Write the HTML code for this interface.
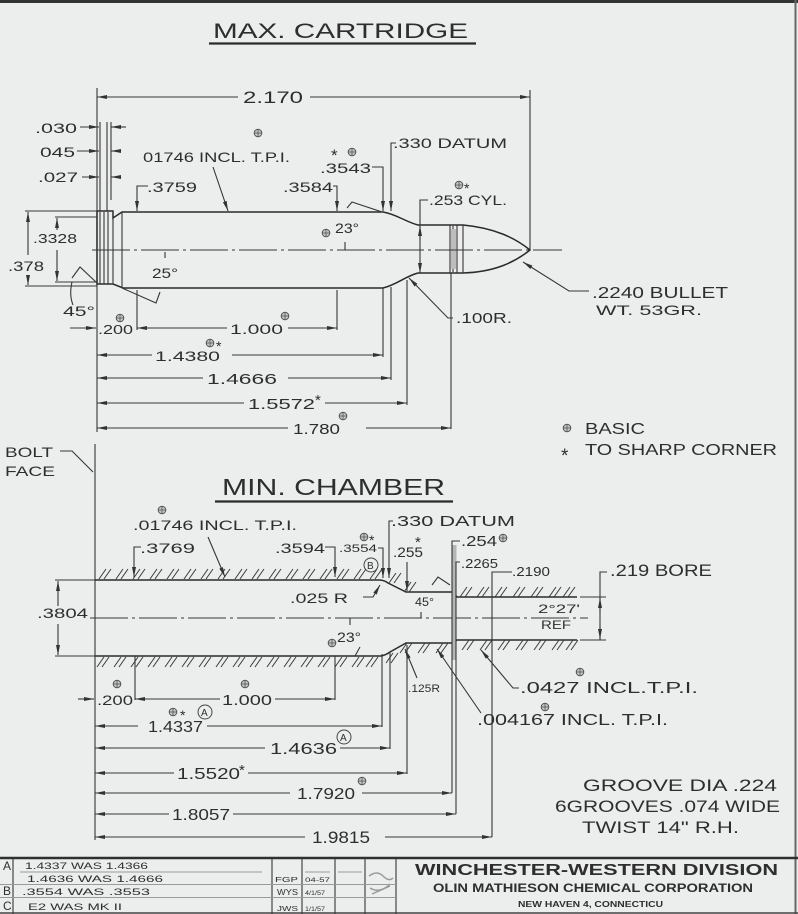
<!DOCTYPE html>
<html><head><meta charset="utf-8"><style>
html,body{margin:0;padding:0;background:#eceeed;}
svg{display:block;}
text{font-family:"Liberation Sans",sans-serif;fill:#2e2e2e;}
.l{stroke:#363636;stroke-width:1.1;fill:none;}
.k{stroke:#2a2a2a;stroke-width:1.5;fill:none;}
.h{stroke:#3a3a3a;stroke-width:1;fill:none;}
.g{stroke:#9a9a9a;stroke-width:1;fill:none;}
</style></head><body>
<svg width="798" height="914" viewBox="0 0 798 914" xmlns="http://www.w3.org/2000/svg">
<defs>
<marker id="a" viewBox="0 0 10 4" refX="10" refY="2" markerWidth="10" markerHeight="4" orient="auto-start-reverse" markerUnits="userSpaceOnUse"><path d="M0,0L10,2L0,4z" fill="#333"/></marker>
<g id="b"><circle r="3.8" fill="#c4c4c4" stroke="#555" stroke-width="1"/><path d="M-3.8,0H3.8M0,-3.8V3.8" stroke="#555" stroke-width="0.8"/></g>
</defs>
<rect width="798" height="914" fill="#eceeed"/>
<path d="M0,1.5H798" stroke="#333" stroke-width="3"/>
<path d="M795.5,0V914" stroke="#666" stroke-width="2"/>

<!-- ===== MAX CARTRIDGE ===== -->
<text x="213" y="38" font-size="21" textLength="255" lengthAdjust="spacingAndGlyphs">MAX. CARTRIDGE</text>
<path d="M209,43.5H476" stroke="#2a2a2a" stroke-width="2.2"/>

<path class="l" d="M97,97H238" marker-start="url(#a)"/>
<text x="243" y="103" font-size="17" textLength="60" lengthAdjust="spacingAndGlyphs">2.170</text>
<path class="l" d="M310,97H530" marker-end="url(#a)"/>
<path class="l" d="M97,88V432M530,90V249"/>

<text x="35" y="133" font-size="14" textLength="42" lengthAdjust="spacingAndGlyphs">.030</text>
<path class="l" d="M80,127H99" marker-end="url(#a)"/><path class="l" d="M126,127H111" marker-end="url(#a)"/>
<text x="40" y="157" font-size="14" textLength="35" lengthAdjust="spacingAndGlyphs">045</text>
<path class="l" d="M77,151H99" marker-end="url(#a)"/><path class="l" d="M119,151H111" marker-end="url(#a)"/>
<text x="38" y="182" font-size="14" textLength="40" lengthAdjust="spacingAndGlyphs">.027</text>
<path class="l" d="M82,177H99" marker-end="url(#a)"/><path class="l" d="M120,177H111" marker-end="url(#a)"/>
<path class="l" d="M100,122V211M107,122V211M111,122V200"/>

<!-- cartridge outline -->
<path class="k" d="M97,211L113,211L113,218L122,212L383,212C396,214 406,222 418,225L463,225C495,228 515,238 530,250C515,262 495,272 463,273L418,273C406,276 396,285 383,288L123,288L113,284L97,284Z"/>
<path class="l" d="M100,212V284M104,212V284M108,212V284M113,218V284M122,212V288M450,225V273M453,226V272M457,225V273M463,225V273"/>
<rect x="451" y="229" width="5" height="40" fill="#bdbdbd"/>
<path class="l" d="M92,250H562" stroke-dasharray="38 4 3 4"/>

<!-- top labels -->
<use href="#b" x="258" y="133"/>
<text x="143" y="162" font-size="14" textLength="147" lengthAdjust="spacingAndGlyphs">01746 INCL. T.P.I.</text>
<path class="l" d="M213,167L228,211" marker-end="url(#a)"/>
<path class="l" d="M148,186H137V211" marker-end="url(#a)"/>
<text x="147" y="192" font-size="14" textLength="50" lengthAdjust="spacingAndGlyphs">.3759</text>
<text x="283" y="192" font-size="14" textLength="50" lengthAdjust="spacingAndGlyphs">.3584</text>
<path class="l" d="M333,186H337V211" marker-end="url(#a)"/>
<text x="331" y="161" font-size="17">*</text><use href="#b" x="352" y="152"/>
<text x="320" y="173" font-size="14" textLength="51" lengthAdjust="spacingAndGlyphs">.3543</text>
<path class="l" d="M372,167H383V211" marker-end="url(#a)"/>
<path class="l" d="M396,143H391V211" marker-end="url(#a)"/>
<text x="393" y="148" font-size="14" textLength="114" lengthAdjust="spacingAndGlyphs">.330 DATUM</text>
<use href="#b" x="459" y="185"/><text x="464" y="193" font-size="14">*</text>
<text x="429" y="205" font-size="14" textLength="78" lengthAdjust="spacingAndGlyphs">.253 CYL.</text>
<path class="l" d="M428,200H420V273" marker-end="url(#a)"/>
<path class="l" d="M420,240V226" marker-end="url(#a)"/>

<text x="592" y="298" font-size="16" textLength="136" lengthAdjust="spacingAndGlyphs">.2240 BULLET</text>
<text x="596" y="315" font-size="14" textLength="106" lengthAdjust="spacingAndGlyphs">WT.  53GR.</text>
<path class="l" d="M589,291H569L523,262" marker-end="url(#a)"/>
<text x="456" y="323" font-size="15" textLength="56" lengthAdjust="spacingAndGlyphs">.100R.</text>
<path class="l" d="M453,318H448L409,278" marker-end="url(#a)"/>

<use href="#b" x="326" y="233"/>
<text x="335" y="233" font-size="14" textLength="24" lengthAdjust="spacingAndGlyphs">23°</text>
<path class="l" d="M345,242V250M347,208L352,202L382,212"/>
<text x="152" y="278" font-size="14" textLength="26" lengthAdjust="spacingAndGlyphs">25°</text>
<path class="l" d="M122,288L156,303L160,292M165,252V258"/>
<text x="63" y="316" font-size="14" textLength="32" lengthAdjust="spacingAndGlyphs">45°</text>
<path class="l" d="M72,278L80,267L97,283M72,282Q69,295 73,305"/>

<!-- .3328 / .378 -->
<text x="33" y="243" font-size="13" textLength="44" lengthAdjust="spacingAndGlyphs">.3328</text>
<path class="l" d="M55,217H97M55,282H97"/>
<path class="l" d="M57,230V218" marker-end="url(#a)"/><path class="l" d="M57,250V281" marker-end="url(#a)"/>
<text x="8" y="271" font-size="14" textLength="36" lengthAdjust="spacingAndGlyphs">.378</text>
<path class="l" d="M25,211H97M25,286H97"/>
<path class="l" d="M28,255V212" marker-end="url(#a)"/><path class="l" d="M28,276V285" marker-end="url(#a)"/>

<!-- lower dims top view -->
<path class="l" d="M137,290V330M337,290V330M383,288V357M391,287V380M407,280V405M451,273V429"/>
<path class="l" d="M70,328H96" marker-end="url(#a)"/>
<use href="#b" x="120" y="318"/>
<text x="98" y="334" font-size="13" textLength="35" lengthAdjust="spacingAndGlyphs">.200</text>
<path class="l" d="M137,328H227" marker-start="url(#a)"/>
<text x="230" y="334" font-size="14" textLength="53" lengthAdjust="spacingAndGlyphs">1.000</text>
<use href="#b" x="285" y="316"/>
<path class="l" d="M288,328H337" marker-end="url(#a)"/>

<path class="l" d="M97,355H152" marker-start="url(#a)"/>
<text x="155" y="361" font-size="14" textLength="65" lengthAdjust="spacingAndGlyphs">1.4380</text>
<use href="#b" x="210" y="343"/><text x="216" y="351" font-size="14">*</text>
<path class="l" d="M232,355H383" marker-end="url(#a)"/>

<path class="l" d="M97,378H203" marker-start="url(#a)"/>
<text x="207" y="384" font-size="15" textLength="70" lengthAdjust="spacingAndGlyphs">1.4666</text>
<path class="l" d="M288,378H391" marker-end="url(#a)"/>

<path class="l" d="M97,403H244" marker-start="url(#a)"/>
<text x="248" y="409" font-size="15" textLength="67" lengthAdjust="spacingAndGlyphs">1.5572</text>
<text x="315" y="405" font-size="15">*</text>
<path class="l" d="M325,403H407" marker-end="url(#a)"/>

<path class="l" d="M97,428H288" marker-start="url(#a)"/>
<text x="293" y="434" font-size="15" textLength="47" lengthAdjust="spacingAndGlyphs">1.780</text>
<use href="#b" x="343" y="416"/>
<path class="l" d="M366,428H451" marker-end="url(#a)"/>

<use href="#b" x="567" y="428"/>
<text x="585" y="434" font-size="16" textLength="60" lengthAdjust="spacingAndGlyphs">BASIC</text>
<text x="561" y="462" font-size="19">*</text>
<text x="585" y="455" font-size="16" textLength="192" lengthAdjust="spacingAndGlyphs">TO SHARP CORNER</text>

<!-- ===== BOLT FACE / MIN CHAMBER ===== -->
<text x="5" y="457" font-size="14" textLength="48" lengthAdjust="spacingAndGlyphs">BOLT</text>
<text x="5" y="476" font-size="14" textLength="50" lengthAdjust="spacingAndGlyphs">FACE</text>
<path class="l" d="M60,451H72L93,472"/>
<path class="l" d="M95,444V840"/>

<text x="222" y="495" font-size="23" textLength="223" lengthAdjust="spacingAndGlyphs">MIN. CHAMBER</text>
<path d="M215,501.5H453" stroke="#2a2a2a" stroke-width="2.2"/>

<!-- chamber profile -->
<path class="k" d="M95,580L379,580Q384,580 388,583L406,592L453,592L457,597L577,597"/>
<path class="k" d="M95,656L381,656Q386,655 390,652L406,643L453,643L457,640L577,640"/>
<path class="l" d="M90,618H588" stroke-dasharray="38 4 3 4"/>
<path class="h" d="M99,579l7,-10m-2,10l7,-10M116,579l7,-10m-2,10l7,-10M133,579l7,-10m-2,10l7,-10M150,579l7,-10m-2,10l7,-10M167,579l7,-10m-2,10l7,-10M184,579l7,-10m-2,10l7,-10M201,579l7,-10m-2,10l7,-10M218,579l7,-10m-2,10l7,-10M235,579l7,-10m-2,10l7,-10M252,579l7,-10m-2,10l7,-10M269,579l7,-10m-2,10l7,-10M286,579l7,-10m-2,10l7,-10M303,579l7,-10m-2,10l7,-10M320,579l7,-10m-2,10l7,-10M337,579l7,-10m-2,10l7,-10M354,579l7,-10m-2,10l7,-10M370,579l7,-10m-2,10l7,-10M389,583l7,-10m-2,10l7,-10M404,592l7,-10m-2,10l7,-10M460,597l7,-10m-2,10l7,-10M477,597l7,-10m-2,10l7,-10M495,597l7,-10m-2,10l7,-10M513,597l7,-10m-2,10l7,-10M531,597l7,-10m-2,10l7,-10M549,597l7,-10m-2,10l7,-10M563,597l7,-10m-2,10l7,-10"/>
<path class="h" d="M97,667l7,-10m-2,10l7,-10M114,667l7,-10m-2,10l7,-10M131,667l7,-10m-2,10l7,-10M148,667l7,-10m-2,10l7,-10M165,667l7,-10m-2,10l7,-10M182,667l7,-10m-2,10l7,-10M199,667l7,-10m-2,10l7,-10M216,667l7,-10m-2,10l7,-10M233,667l7,-10m-2,10l7,-10M250,667l7,-10m-2,10l7,-10M267,667l7,-10m-2,10l7,-10M284,667l7,-10m-2,10l7,-10M301,667l7,-10m-2,10l7,-10M318,667l7,-10m-2,10l7,-10M335,667l7,-10m-2,10l7,-10M352,667l7,-10m-2,10l7,-10M366,667l7,-10m-2,10l7,-10M386,663l7,-10m-2,10l7,-10M400,653l7,-10m-2,10l7,-10M418,653l7,-10m-2,10l7,-10M436,653l7,-10m-2,10l7,-10M462,650l7,-10m-2,10l7,-10M480,650l7,-10m-2,10l7,-10M498,650l7,-10m-2,10l7,-10M516,650l7,-10m-2,10l7,-10M534,650l7,-10m-2,10l7,-10M552,650l7,-10m-2,10l7,-10M566,650l7,-10m-2,10l7,-10"/>
<path d="M454.5,545V660" stroke="#b5b5b5" stroke-width="4"/>

<!-- chamber top labels -->
<use href="#b" x="162" y="510"/>
<text x="133" y="530" font-size="14" textLength="164" lengthAdjust="spacingAndGlyphs">.01746 INCL. T.P.I.</text>
<path class="l" d="M208,537L225,577" marker-end="url(#a)"/>
<path class="l" d="M141,547H134V577" marker-end="url(#a)"/>
<text x="140" y="553" font-size="14" textLength="55" lengthAdjust="spacingAndGlyphs">.3769</text>
<text x="275" y="553" font-size="14" textLength="50" lengthAdjust="spacingAndGlyphs">.3594</text>
<path class="l" d="M325,547H335V577" marker-end="url(#a)"/>
<use href="#b" x="364" y="537"/><text x="369" y="545" font-size="14">*</text>
<text x="339" y="552" font-size="11" textLength="38" lengthAdjust="spacingAndGlyphs">.3554</text>
<path class="l" d="M378,548H383V578" marker-end="url(#a)"/>
<circle cx="371" cy="565" r="7" fill="none" stroke="#444" stroke-width="1"/>
<text x="367" y="569" font-size="10">B</text>
<path class="l" d="M393,521H389V578" marker-end="url(#a)"/>
<text x="391" y="526" font-size="15" textLength="124" lengthAdjust="spacingAndGlyphs">.330 DATUM</text>
<text x="415" y="547" font-size="15">*</text>
<text x="393" y="557" font-size="14" textLength="30" lengthAdjust="spacingAndGlyphs">.255</text>
<path class="l" d="M407,562V591" marker-end="url(#a)"/>
<path class="l" d="M460,541H452V793"/>
<text x="461" y="546" font-size="15" textLength="36" lengthAdjust="spacingAndGlyphs">.254</text>
<use href="#b" x="503" y="538"/>
<path class="l" d="M460,562H456V814"/>
<text x="461" y="568" font-size="13" textLength="37" lengthAdjust="spacingAndGlyphs">.2265</text>
<path class="l" d="M512,572H492V837"/>
<text x="512" y="576" font-size="13" textLength="38" lengthAdjust="spacingAndGlyphs">.2190</text>
<text x="610" y="576" font-size="17" textLength="102" lengthAdjust="spacingAndGlyphs">.219 BORE</text>
<path class="l" d="M607,572H600V640M580,597H606M580,640H606"/>
<path class="l" d="M600,612V598" marker-end="url(#a)"/><path class="l" d="M600,626V639" marker-end="url(#a)"/>
<text x="538" y="613" font-size="12" textLength="42" lengthAdjust="spacingAndGlyphs">2°27'</text>
<text x="541" y="629" font-size="12" textLength="30" lengthAdjust="spacingAndGlyphs">REF</text>
<text x="415" y="606" font-size="12" textLength="19" lengthAdjust="spacingAndGlyphs">45°</text>
<path class="l" d="M432,585L438,577L450,585M421,612V618"/>
<text x="290" y="603" font-size="14" textLength="58" lengthAdjust="spacingAndGlyphs">.025 R</text>
<path class="l" d="M363,597H373L380,585" marker-end="url(#a)"/>

<!-- .3804 -->
<text x="37" y="618" font-size="14" textLength="51" lengthAdjust="spacingAndGlyphs">.3804</text>
<path class="l" d="M55,580H95M55,656H95"/>
<path class="l" d="M58,606V581" marker-end="url(#a)"/><path class="l" d="M58,624V655" marker-end="url(#a)"/>

<use href="#b" x="332" y="643"/>
<text x="337" y="642" font-size="14" textLength="24" lengthAdjust="spacingAndGlyphs">23°</text>
<path class="l" d="M350,618V625M355,656L360,647"/>

<text x="408" y="692" font-size="11" textLength="32" lengthAdjust="spacingAndGlyphs">.125R</text>
<path class="l" d="M417,678L405,649" marker-end="url(#a)"/>
<use href="#b" x="580" y="672"/>
<text x="520" y="693" font-size="16" textLength="178" lengthAdjust="spacingAndGlyphs">.0427 INCL.T.P.I.</text>
<path class="l" d="M519,688H513L481,650" marker-end="url(#a)"/>
<use href="#b" x="545" y="707"/>
<text x="477" y="725" font-size="16" textLength="191" lengthAdjust="spacingAndGlyphs">.004167 INCL. T.P.I.</text>
<path class="l" d="M481,713L437,649" marker-end="url(#a)"/>

<!-- chamber bottom dims -->
<path class="l" d="M135,656V700M335,656V700M382,654V727M390,652V749M407,645V774"/>
<path class="l" d="M78,699H94" marker-end="url(#a)"/>
<use href="#b" x="117" y="684"/>
<text x="97" y="705" font-size="14" textLength="36" lengthAdjust="spacingAndGlyphs">.200</text>
<path class="l" d="M135,699H220" marker-start="url(#a)"/>
<use href="#b" x="245" y="684"/>
<text x="222" y="705" font-size="15" textLength="50" lengthAdjust="spacingAndGlyphs">1.000</text>
<path class="l" d="M275,699H335" marker-end="url(#a)"/>

<path class="l" d="M95,726H138" marker-start="url(#a)"/>
<use href="#b" x="173" y="712"/><text x="180" y="720" font-size="14">*</text>
<circle cx="205" cy="712" r="7" fill="none" stroke="#444" stroke-width="1"/><text x="201" y="716" font-size="10">A</text>
<text x="148" y="732" font-size="16" textLength="55" lengthAdjust="spacingAndGlyphs">1.4337</text>
<path class="l" d="M207,726H382" marker-end="url(#a)"/>

<path class="l" d="M95,748H265" marker-start="url(#a)"/>
<text x="270" y="754" font-size="16" textLength="67" lengthAdjust="spacingAndGlyphs">1.4636</text>
<circle cx="344" cy="737" r="7" fill="none" stroke="#444" stroke-width="1"/><text x="340" y="741" font-size="10">A</text>
<path class="l" d="M340,748H390" marker-end="url(#a)"/>

<path class="l" d="M95,773H174" marker-start="url(#a)"/>
<text x="177" y="779" font-size="16" textLength="63" lengthAdjust="spacingAndGlyphs">1.5520</text>
<text x="239" y="775" font-size="15">*</text>
<path class="l" d="M248,773H407" marker-end="url(#a)"/>

<path class="l" d="M95,793H290" marker-start="url(#a)"/>
<text x="297" y="799" font-size="16" textLength="58" lengthAdjust="spacingAndGlyphs">1.7920</text>
<use href="#b" x="362" y="781"/>
<path class="l" d="M362,793H452" marker-end="url(#a)"/>

<path class="l" d="M95,814H169" marker-start="url(#a)"/>
<text x="172" y="820" font-size="16" textLength="58" lengthAdjust="spacingAndGlyphs">1.8057</text>
<path class="l" d="M233,814H456" marker-end="url(#a)"/>

<path class="l" d="M95,837H305" marker-start="url(#a)"/>
<text x="312" y="843" font-size="17" textLength="58" lengthAdjust="spacingAndGlyphs">1.9815</text>
<path class="l" d="M385,837H492" marker-end="url(#a)"/>

<text x="583" y="791" font-size="17" textLength="194" lengthAdjust="spacingAndGlyphs">GROOVE DIA .224</text>
<text x="555" y="812" font-size="17" textLength="225" lengthAdjust="spacingAndGlyphs">6GROOVES  .074 WIDE</text>
<text x="582" y="833" font-size="17" textLength="157" lengthAdjust="spacingAndGlyphs">TWIST 14" R.H.</text>

<!-- ===== TITLE BLOCK ===== -->
<path d="M0,858H798" stroke="#2f2f2f" stroke-width="2.5"/>
<path d="M0,913H798" stroke="#444" stroke-width="1.5"/>
<path class="l" d="M396,858V914M13,858V914M272,858V914M302,858V914M335,858V914M365,858V914"/>
<path class="g" d="M20,872H262M0,884.5H396M0,897.5H396M305,872H330M338,872H362"/>
<text x="3" y="870" font-size="12">A</text>
<text x="25" y="869" font-size="9" textLength="123" lengthAdjust="spacingAndGlyphs" fill="#555">1.4337 WAS 1.4366</text>
<text x="27" y="882" font-size="9" textLength="136" lengthAdjust="spacingAndGlyphs" fill="#555">1.4636 WAS 1.4666</text>
<text x="3" y="895" font-size="12">B</text>
<text x="22" y="895" font-size="9" textLength="128" lengthAdjust="spacingAndGlyphs" fill="#555">.3554 WAS .3553</text>
<text x="3" y="910" font-size="12">C</text>
<text x="28" y="910" font-size="9" textLength="94" lengthAdjust="spacingAndGlyphs" fill="#555">E2  WAS  MK II</text>
<text x="275" y="882" font-size="7" textLength="23" lengthAdjust="spacingAndGlyphs" fill="#666">FGP</text>
<text x="305" y="882" font-size="6" textLength="25" lengthAdjust="spacingAndGlyphs" fill="#666">04-57</text>
<text x="277" y="895" font-size="8" textLength="21" lengthAdjust="spacingAndGlyphs" fill="#666">WYS</text>
<text x="305" y="895" font-size="6" textLength="20" lengthAdjust="spacingAndGlyphs" fill="#666">4/1/57</text>
<text x="277" y="911" font-size="7" textLength="21" lengthAdjust="spacingAndGlyphs" fill="#666">JWS</text>
<text x="305" y="911" font-size="6" textLength="20" lengthAdjust="spacingAndGlyphs" fill="#666">1/1/57</text>
<path d="M369,876q8,-6 14,0t10,2M370,888q10,6 20,-4M372,894l18,-8" stroke="#9a9a9a" stroke-width="1.5" fill="none"/>

<text x="415" y="875" font-size="16" font-weight="bold" textLength="363" lengthAdjust="spacingAndGlyphs" fill="#3a3a3a">WINCHESTER-WESTERN DIVISION</text>
<text x="433" y="892" font-size="12" font-weight="bold" textLength="320" lengthAdjust="spacingAndGlyphs" fill="#3a3a3a">OLIN MATHIESON CHEMICAL CORPORATION</text>
<text x="518" y="907" font-size="8" font-weight="bold" textLength="145" lengthAdjust="spacingAndGlyphs" fill="#444">NEW HAVEN 4, CONNECTICU</text>
</svg>
</body></html>
